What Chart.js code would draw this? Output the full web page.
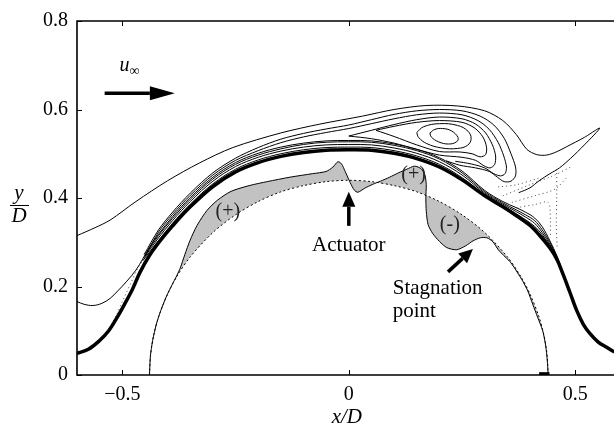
<!DOCTYPE html>
<html>
<head>
<meta charset="utf-8">
<script src="https://cdn.jsdelivr.net/npm/chart.js@4.4.1/dist/chart.umd.min.js"></script>
<style>
  html, body { margin: 0; padding: 0; background: #fff; overflow: hidden; }
  canvas { display: block; }
</style>
</head>
<body>
<canvas id="chart" width="614" height="432"></canvas>
<script>
// Axis ticks and labels
const xTicks = [-0.5, 0, 0.5];
const xTickLabels = ['\u22120.5', '0', '0.5'];
const yTicks = [0, 0.2, 0.4, 0.6, 0.8];
const yTickLabels = ['0', '0.2', '0.4', '0.6', '0.8'];

// Dividing streamline (thick)
const thickCurve = [[-0.6,0.049],[-0.575,0.058],[-0.55,0.078],[-0.53,0.1],[-0.512,0.129],[-0.495,0.16],[-0.477,0.195],[-0.461,0.232],[-0.44,0.27],[-0.415,0.305],[-0.389,0.337],[-0.35,0.38],[-0.3,0.426],[-0.25,0.459],[-0.2,0.48],[-0.15,0.494],[-0.1,0.503],[-0.05,0.508],[0,0.509],[0.05,0.508],[0.1,0.501],[0.15,0.489],[0.2,0.47],[0.25,0.441],[0.3,0.405],[0.34,0.38],[0.37,0.36],[0.4,0.338],[0.42,0.317],[0.444,0.287],[0.46,0.26],[0.472,0.23],[0.488,0.187],[0.503,0.146],[0.518,0.114],[0.532,0.094],[0.55,0.075],[0.57,0.062],[0.586,0.052]];

// Outer streamline with the downstream hook
const outerStreamline = [[-0.6,0.315],[-0.56,0.333],[-0.527,0.35],[-0.47,0.392],[-0.4,0.439],[-0.33,0.479],[-0.256,0.514],[-0.15,0.547],[-0.064,0.567],[0.03,0.585],[0.1,0.6],[0.17,0.609],[0.24,0.608],[0.3,0.597],[0.34,0.575],[0.37,0.543],[0.393,0.51],[0.415,0.498],[0.437,0.497],[0.46,0.505],[0.481,0.516],[0.52,0.537],[0.554,0.558],[0.52,0.52],[0.49,0.49],[0.465,0.468],[0.444,0.455],[0.42,0.439],[0.4,0.423],[0.375,0.412]];

// Streamline entering from the left boundary and joining the wall bundle
const leftStreamline = [[-0.6,0.166],[-0.585,0.16],[-0.565,0.157],[-0.545,0.162],[-0.527,0.173],[-0.51,0.19],[-0.49,0.212],[-0.47,0.237],[-0.455,0.262],[-0.44,0.289],[-0.42,0.318],[-0.389,0.358],[-0.35,0.401],[-0.3,0.447],[-0.25,0.48],[-0.2,0.501],[-0.15,0.515],[-0.1,0.524],[-0.05,0.529],[0,0.53],[0.05,0.529],[0.1,0.522],[0.15,0.51],[0.2,0.491],[0.25,0.461],[0.3,0.417],[0.34,0.392],[0.37,0.378],[0.39,0.368],[0.41,0.355],[0.427,0.335],[0.444,0.303],[0.46,0.268],[0.472,0.234],[0.488,0.19]];

// Streamlines hugging the dividing streamline
const bundleA = [[-0.455,0.258],[-0.42,0.304],[-0.389,0.343],[-0.35,0.386],[-0.3,0.432],[-0.25,0.465],[-0.2,0.486],[-0.15,0.5],[-0.1,0.509],[-0.05,0.514],[0,0.515],[0.05,0.514],[0.1,0.507],[0.15,0.495],[0.2,0.476],[0.25,0.446],[0.3,0.408],[0.34,0.383],[0.37,0.364],[0.39,0.351],[0.41,0.336],[0.427,0.317],[0.444,0.291],[0.46,0.262],[0.472,0.231],[0.488,0.188]];
const bundleB = [[-0.452,0.265],[-0.42,0.31],[-0.389,0.349],[-0.35,0.392],[-0.3,0.438],[-0.25,0.471],[-0.2,0.492],[-0.15,0.506],[-0.1,0.515],[-0.05,0.52],[0,0.521],[0.05,0.52],[0.1,0.513],[0.15,0.501],[0.2,0.482],[0.25,0.452],[0.3,0.411],[0.34,0.386],[0.37,0.369],[0.39,0.357],[0.41,0.343],[0.427,0.322],[0.444,0.295],[0.46,0.264],[0.472,0.232],[0.488,0.188]];
const bundleC = [[-0.449,0.272],[-0.42,0.315],[-0.389,0.354],[-0.35,0.397],[-0.3,0.443],[-0.25,0.476],[-0.2,0.497],[-0.15,0.511],[-0.1,0.521],[-0.05,0.526],[0,0.527],[0.05,0.526],[0.1,0.519],[0.15,0.507],[0.2,0.488],[0.25,0.457],[0.3,0.414],[0.34,0.389],[0.37,0.373],[0.39,0.362],[0.41,0.349],[0.427,0.328],[0.444,0.299],[0.46,0.266],[0.472,0.233],[0.488,0.189]];

// Recirculation contours over the top
const recircA = [[-0.452,0.272],[-0.42,0.328],[-0.389,0.368],[-0.35,0.411],[-0.3,0.457],[-0.25,0.49],[-0.2,0.514],[-0.15,0.533],[-0.1,0.546],[-0.05,0.556],[0,0.565],[0.05,0.577],[0.1,0.589],[0.15,0.597],[0.2,0.6],[0.25,0.597],[0.29,0.585],[0.32,0.565],[0.343,0.535],[0.358,0.5],[0.368,0.47],[0.368,0.45],[0.358,0.438],[0.343,0.437],[0.328,0.447],[0.31,0.46],[0.28,0.468],[0.245,0.474],[0.215,0.484]];
const recircB = [[-0.45,0.268],[-0.42,0.323],[-0.389,0.363],[-0.35,0.406],[-0.3,0.452],[-0.25,0.485],[-0.2,0.507],[-0.15,0.525],[-0.1,0.538],[-0.05,0.548],[0,0.557],[0.05,0.568],[0.1,0.579],[0.15,0.588],[0.2,0.592],[0.25,0.588],[0.285,0.575],[0.31,0.555],[0.33,0.525],[0.342,0.495],[0.348,0.47],[0.345,0.455],[0.335,0.45],[0.32,0.455],[0.3,0.468],[0.27,0.477],[0.235,0.483]];
const recircC = [[0,0.54],[0.05,0.553],[0.1,0.566],[0.15,0.577],[0.2,0.583],[0.25,0.579],[0.28,0.567],[0.302,0.547],[0.317,0.52],[0.324,0.495],[0.322,0.476],[0.312,0.468],[0.298,0.473],[0.28,0.485],[0.25,0.492],[0.2,0.497],[0.15,0.51],[0.1,0.524],[0.05,0.534],[0,0.54]];
const recircD = [[0.06,0.553],[0.1,0.562],[0.15,0.571],[0.2,0.575],[0.25,0.571],[0.278,0.558],[0.296,0.538],[0.304,0.515],[0.302,0.498],[0.29,0.493],[0.272,0.5],[0.245,0.504],[0.2,0.505],[0.15,0.52],[0.1,0.539],[0.06,0.553]];
const vortexOuter = [[0.15,0.548],[0.165,0.561],[0.2,0.568],[0.24,0.564],[0.263,0.551],[0.27,0.534],[0.262,0.519],[0.24,0.512],[0.205,0.513],[0.172,0.523],[0.154,0.537],[0.15,0.548]];
const vortexCore = [[0.179,0.547],[0.19,0.555],[0.207,0.557],[0.226,0.552],[0.241,0.537],[0.238,0.527],[0.22,0.522],[0.198,0.527],[0.182,0.538],[0.179,0.547]];

// Dotted (reversed-flow) streamlines
const dottedLeft = [[-0.458,0.255],[-0.47,0.233],[-0.48,0.21],[-0.49,0.188],[-0.5,0.166],[-0.512,0.138],[-0.525,0.112]];
const dottedA = [[0.34,0.405],[0.4,0.43],[0.45,0.45],[0.49,0.47]];
const dottedB = [[0.36,0.39],[0.41,0.405],[0.455,0.42],[0.48,0.445]];
const dottedC = [[0.459,0.465],[0.459,0.4],[0.458,0.34],[0.46,0.285]];
const dottedD = [[0.37,0.378],[0.41,0.385],[0.44,0.39],[0.445,0.35],[0.445,0.31]];
const dottedE = [[0.33,0.425],[0.37,0.43],[0.42,0.445]];

// Wall quantity (solid) and reference semicircle (dashed)
const surfaceCurve = [[-0.44,0],[-0.438,0.042],[-0.433,0.078],[-0.425,0.114],[-0.415,0.146],[-0.402,0.179],[-0.39,0.204],[-0.38,0.224],[-0.372,0.242],[-0.362,0.272],[-0.351,0.303],[-0.335,0.338],[-0.313,0.372],[-0.29,0.395],[-0.26,0.415],[-0.22,0.428],[-0.18,0.437],[-0.13,0.447],[-0.08,0.455],[-0.05,0.46],[-0.035,0.47],[-0.024,0.482],[-0.016,0.477],[-0.008,0.46],[0.003,0.435],[0.012,0.418],[0.02,0.413],[0.035,0.422],[0.053,0.431],[0.07,0.438],[0.09,0.447],[0.11,0.457],[0.128,0.465],[0.145,0.472],[0.16,0.466],[0.168,0.452],[0.171,0.43],[0.17,0.4],[0.171,0.37],[0.175,0.34],[0.185,0.32],[0.2,0.302],[0.216,0.288],[0.238,0.283],[0.258,0.292],[0.274,0.303],[0.29,0.31],[0.305,0.31],[0.318,0.301],[0.33,0.283],[0.342,0.27],[0.355,0.257],[0.365,0.243],[0.375,0.227],[0.384,0.212],[0.395,0.19],[0.406,0.16],[0.417,0.13],[0.428,0.1],[0.434,0.07],[0.437,0.045],[0.439,0.02],[0.44,0]];
const circleCurve = [[-0.44,0],[-0.438,0.042],[-0.435,0.066],[-0.43,0.093],[-0.42,0.131],[-0.4,0.183],[-0.38,0.222],[-0.35,0.267],[-0.3,0.322],[-0.25,0.362],[-0.2,0.392],[-0.15,0.414],[-0.1,0.428],[-0.05,0.437],[0,0.44],[0.05,0.437],[0.1,0.428],[0.15,0.414],[0.2,0.392],[0.25,0.362],[0.3,0.322],[0.35,0.267],[0.38,0.222],[0.4,0.183],[0.42,0.131],[0.43,0.093],[0.435,0.066],[0.438,0.042],[0.44,0]];
const wallMark = [[0.42,0.003],[0.443,0.003]];

// Annotations (data coordinates)
const flowArrow = [[-0.539,0.637],[-0.384,0.637]];
const flowLabelPos = [-0.506, 0.687];
const actuatorArrow = [[0,0.337],[0,0.414]];
const stagnationArrow = [[0.219,0.233],[0.274,0.285]];
const textNotes = [
  { text: 'Actuator', x: 0, y: 0.281, align: 'center' },
  { text: 'Stagnation', x: 0.097, y: 0.184, align: 'left' },
  { text: 'point', x: 0.097, y: 0.131, align: 'left' }
];
const signNotes = [
  { text: '(+)', x: -0.267, y: 0.37 },
  { text: '(+)', x: 0.143, y: 0.452 },
  { text: '(-)', x: 0.223, y: 0.339 }
];

const SERIF = "'Liberation Serif', 'Times New Roman', serif";

function toPts(arr) { return arr.map(p => ({ x: p[0], y: p[1] })); }
function curve(arr, opts) {
  return Object.assign({
    data: toPts(arr), showLine: true, pointRadius: 0, borderColor: '#000',
    borderWidth: 1, tension: 0.35, fill: false, order: 1
  }, opts || {});
}
const dotted = { borderDash: [1, 3], borderColor: '#444', borderWidth: 1, tension: 0.3 };

const bandPolygon = surfaceCurve.concat(circleCurve.slice().reverse());

const datasets = [
  curve(thickCurve, { borderWidth: 3.5, order: 0 }),
  curve(outerStreamline, { tension: 0.3 }),
  curve(leftStreamline),
  curve(bundleA), curve(bundleB), curve(bundleC),
  curve(recircA, { tension: 0.3 }), curve(recircB, { tension: 0.3 }),
  curve(recircC, { tension: 0.3 }), curve(recircD, { tension: 0.3 }),
  curve(vortexOuter, { tension: 0.4 }), curve(vortexCore, { tension: 0.4 }),
  curve(dottedLeft, dotted), curve(dottedA, dotted), curve(dottedB, dotted),
  curve(dottedC, dotted), curve(dottedD, dotted), curve(dottedE, dotted),
  curve(surfaceCurve, { tension: 0.25 }),
  curve(circleCurve, { borderDash: [2, 2.5], tension: 0.3 }),
  curve(wallMark, { borderWidth: 3, tension: 0 }),
  curve(bandPolygon, { borderWidth: 0, borderColor: 'rgba(0,0,0,0)', backgroundColor: '#c2c2c2', fill: 'shape', tension: 0.25, order: 20 })
];

function drawArrow(ctx, x, y, pts, shaftW, headLen, headHalf) {
  const x0 = x.getPixelForValue(pts[0][0]), y0 = y.getPixelForValue(pts[0][1]);
  const x1 = x.getPixelForValue(pts[1][0]), y1 = y.getPixelForValue(pts[1][1]);
  const ang = Math.atan2(y1 - y0, x1 - x0);
  const bx = x1 - headLen * Math.cos(ang), by = y1 - headLen * Math.sin(ang);
  ctx.beginPath();
  ctx.lineWidth = shaftW;
  ctx.moveTo(x0, y0); ctx.lineTo(bx, by);
  ctx.stroke();
  ctx.beginPath();
  ctx.moveTo(x1, y1);
  ctx.lineTo(bx + headHalf * Math.sin(ang), by - headHalf * Math.cos(ang));
  ctx.lineTo(bx - headHalf * Math.sin(ang), by + headHalf * Math.cos(ang));
  ctx.closePath();
  ctx.fill();
}

const framePlugin = {
  id: 'frame',
  afterDatasetsDraw(chart) {
    const { ctx, chartArea: a, scales: { x, y } } = chart;
    ctx.save();
    ctx.strokeStyle = '#000';
    ctx.lineWidth = 1.6;
    ctx.beginPath();
    ctx.moveTo(chart.width, a.top); ctx.lineTo(a.left, a.top);
    ctx.lineTo(a.left, a.bottom); ctx.lineTo(chart.width, a.bottom);
    ctx.stroke();
    ctx.lineWidth = 1;
    ctx.beginPath();
    xTicks.forEach(v => {
      const px = Math.round(x.getPixelForValue(v)) + 0.5;
      ctx.moveTo(px, a.bottom); ctx.lineTo(px, a.bottom - 5);
      ctx.moveTo(px, a.top); ctx.lineTo(px, a.top + 5);
    });
    yTicks.forEach(v => {
      const py = Math.round(y.getPixelForValue(v)) + 0.5;
      ctx.moveTo(a.left, py); ctx.lineTo(a.left + 5, py);
    });
    ctx.stroke();
    ctx.restore();
  },
  afterDraw(chart) {
    const { ctx, chartArea: a, scales: { x, y } } = chart;
    ctx.save();
    ctx.fillStyle = '#000';
    ctx.strokeStyle = '#000';
    // arrows
    drawArrow(ctx, x, y, flowArrow, 3.5, 25, 7);
    drawArrow(ctx, x, y, actuatorArrow, 3.5, 15, 6.5);
    drawArrow(ctx, x, y, stagnationArrow, 3.5, 14, 6.5);
    // free-stream velocity label
    const ux = x.getPixelForValue(flowLabelPos[0]), uy = y.getPixelForValue(flowLabelPos[1]);
    ctx.textAlign = 'left';
    ctx.textBaseline = 'alphabetic';
    ctx.font = 'italic 20px ' + SERIF;
    ctx.fillText('u', ux, uy);
    const uw = ctx.measureText('u').width;
    ctx.font = '14px ' + SERIF;
    ctx.fillText('\u221e', ux + uw, uy + 4);
    // text notes
    ctx.font = '21px ' + SERIF;
    textNotes.forEach(t => {
      ctx.textAlign = t.align;
      ctx.fillText(t.text, x.getPixelForValue(t.x), y.getPixelForValue(t.y));
    });
    ctx.font = '20px ' + SERIF;
    ctx.textAlign = 'center';
    ctx.textBaseline = 'middle';
    ctx.fillStyle = '#222';
    signNotes.forEach(t => {
      ctx.fillText(t.text, x.getPixelForValue(t.x), y.getPixelForValue(t.y));
    });
    // axis titles
    ctx.fillStyle = '#000';
    ctx.textBaseline = 'alphabetic';
    ctx.font = 'italic 21px ' + SERIF;
    ctx.fillText('x/D', x.getPixelForValue(0) - 2, a.bottom + 48);
    const fx = a.left - 58;
    ctx.fillText('y', fx, a.top + 178);
    ctx.fillText('D', fx, a.top + 201);
    ctx.lineWidth = 1;
    ctx.beginPath();
    ctx.moveTo(fx - 9, a.top + 184.5); ctx.lineTo(fx + 10, a.top + 184.5);
    ctx.stroke();
    ctx.restore();
  }
};

new Chart(document.getElementById('chart'), {
  type: 'scatter',
  data: { datasets },
  options: {
    responsive: false,
    animation: false,
    devicePixelRatio: 1,
    events: [],
    layout: { padding: { left: 0, top: 14, right: 0, bottom: 0 } },
    plugins: { legend: { display: false }, tooltip: { enabled: false } },
    scales: {
      x: {
        type: 'linear', min: -0.6, max: 0.5854,
        grid: { display: false, drawTicks: false }, border: { display: false },
        afterBuildTicks: s => { s.ticks = xTicks.map(v => ({ value: v })); },
        afterFit: s => { s.height = 57; },
        ticks: {
          padding: 8, color: '#000', maxRotation: 0, autoSkip: false,
          font: { family: SERIF, size: 20 },
          callback: v => xTickLabels[xTicks.indexOf(v)]
        }
      },
      y: {
        type: 'linear', min: 0, max: 0.8,
        grid: { display: false, drawTicks: false }, border: { display: false },
        afterBuildTicks: s => { s.ticks = yTicks.map(v => ({ value: v })); },
        afterFit: s => { s.width = 77; },
        ticks: {
          padding: 9, color: '#000', autoSkip: false,
          font: { family: SERIF, size: 20 },
          callback: v => yTickLabels[yTicks.indexOf(v)]
        }
      }
    }
  },
  plugins: [framePlugin]
});
</script>
</body>
</html>
